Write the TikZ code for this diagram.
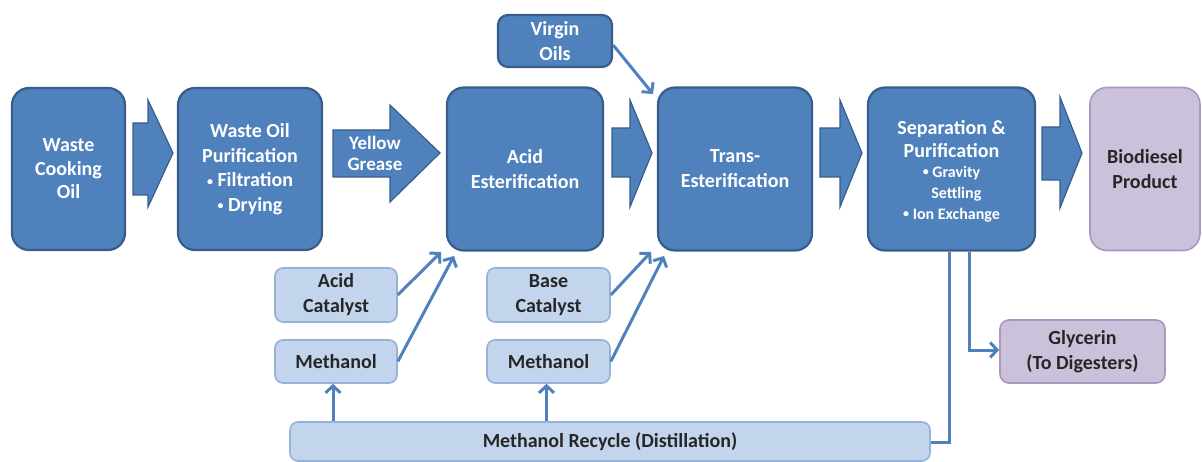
\documentclass[tikz,border=0pt]{standalone}
\usepackage{fontspec}
\setmainfont{Carlito}
\usetikzlibrary{arrows.meta,calc}
\definecolor{dblue}{HTML}{4F81BD}
\definecolor{dborder}{HTML}{385D8A}
\definecolor{lfill}{HTML}{C2D5EC}
\definecolor{lborder}{HTML}{95B3D7}
\definecolor{pfill}{HTML}{CCC1DA}
\definecolor{pborder}{HTML}{A898BE}
\newcommand\sbul{{\fontsize{12}{12}\selectfont\raisebox{0.12em}{•}}}
\tikzset{
  mainbox/.style={draw=dborder, fill=dblue, line width=2.2pt, rounded corners=17pt,
    text=white, font=\bfseries\fontsize{20}{24}\selectfont, align=center, inner sep=2pt},
  lightbox/.style={draw=lborder, fill=lfill, line width=1.6pt, rounded corners=8pt,
    text=black!85, font=\bfseries\fontsize{20}{25}\selectfont, align=center, inner sep=2pt},
  purplebox/.style={draw=pborder, fill=pfill, line width=1.6pt, rounded corners=12pt,
    text=black!85, font=\bfseries\fontsize{20}{25}\selectfont, align=center, inner sep=2pt},
  whitetext/.style={text=white, align=center, inner sep=1pt},
  blockarrow/.style={draw=dborder, fill=dblue, line width=1.2pt, line join=miter},
  conn/.style={draw=dblue, line width=3pt, -{Straight Barb[length=7pt,width=15pt,line width=3pt]}},
  plainconn/.style={draw=dblue, line width=3pt},
}
\begin{document}
\begin{tikzpicture}[x=1pt,y=-1pt]
\useasboundingbox (0,0) rectangle (1202,462);
% main boxes
\node[mainbox, minimum width=113pt, minimum height=162pt, font=\bfseries\fontsize{20}{23.5}\selectfont] (wco) at (68.5,169) {Waste\\Cooking\\Oil};
\node[mainbox, minimum width=144pt, minimum height=162pt, font=\bfseries\fontsize{20}{24.5}\selectfont] (wop) at (250,169) {Waste Oil\\Purification\\\sbul\ Filtration\\\sbul\ Drying};
\node[mainbox, minimum width=156pt, minimum height=163pt, font=\bfseries\fontsize{20}{25}\selectfont] (ae) at (525,169) {Acid\\Esterification};
\node[mainbox, minimum width=154pt, minimum height=163pt, font=\bfseries\fontsize{20}{25}\selectfont] (te) at (735,169) {Trans-\\Esterification};
\node[mainbox, minimum width=167pt, minimum height=163pt] (sp) at (951.5,169) {};
\node[whitetext, font=\bfseries\fontsize{20}{23}\selectfont] (sptitle) at (951.5,139) {Separation \&\\Purification};
\node[whitetext, font=\bfseries\fontsize{16}{21}\selectfont] (spsub) at (951.5,194) {\sbul\ Gravity\\\phantom{\sbul\ }Settling\\\sbul\ Ion Exchange};
\node[purplebox, rounded corners=17pt, minimum width=110pt, minimum height=163pt] (bp) at (1145,169) {Biodiesel\\Product};
\node[mainbox, rounded corners=10pt, minimum width=114pt, minimum height=52pt, font=\bfseries\fontsize{20}{25}\selectfont] (vo) at (555,41) {Virgin\\Oils};
% light boxes
\node[lightbox, minimum width=122pt, minimum height=54pt] (ac) at (336,295) {Acid\\Catalyst};
\node[lightbox, minimum width=122pt, minimum height=43pt] (m1) at (336,361.5) {Methanol};
\node[lightbox, minimum width=123pt, minimum height=54pt] (bc) at (548.5,295) {Base\\Catalyst};
\node[lightbox, minimum width=123pt, minimum height=43pt] (m2) at (548.5,361.5) {Methanol};
\node[lightbox, minimum width=640pt, minimum height=39pt] (mr) at (610,441.5) {Methanol Recycle (Distillation)};
\node[purplebox, rounded corners=9pt, minimum width=165pt, minimum height=63pt] (gl) at (1082.5,351.5) {Glycerin\\(To Digesters)};
% block arrows
\draw[blockarrow] (133,123) -- (148,123) -- (148,100) -- (173,153) -- (148,207) -- (148,195) -- (133,195) -- cycle;
\draw[blockarrow] (333,130) -- (390,130) -- (390,105) -- (440,153) -- (390,202) -- (390,177) -- (333,177) -- cycle;
\node[whitetext, font=\bfseries\fontsize{19}{21}\selectfont] (yg) at (375,153) {Yellow\\Grease};
\draw[blockarrow] (612,128) -- (630,128) -- (630,100) -- (652,153) -- (630,207) -- (630,177) -- (612,177) -- cycle;
\draw[blockarrow] (820,128) -- (840,128) -- (840,100) -- (862,153) -- (840,207) -- (840,177) -- (820,177) -- cycle;
\draw[blockarrow] (1042,127) -- (1060,127) -- (1060,97) -- (1082,153) -- (1060,208) -- (1060,180) -- (1042,180) -- cycle;
% connector endpoints
\coordinate (voT) at (653,94);
\coordinate (acT) at (441,252);
\coordinate (m1T) at (454,256);
\coordinate (bcT) at (651,252);
\coordinate (m2T) at (664,256);
\coordinate (c1) at (949,442);
\coordinate (c2) at (969,350);
% connectors
\draw[conn] ($(vo.east)+(0,4)$) -- (voT);
\draw[conn] (ac.east) -- (acT);
\draw[conn] (m1.east) -- (m1T);
\draw[conn] (bc.east) -- (bcT);
\draw[conn] (m2.east) -- (m2T);
\draw[conn] ($(mr.north -| m1)+(-3,0)$) -- ($(m1.south)+(-3,0)$);
\draw[conn] ($(mr.north -| m2)+(-2,0)$) -- ($(m2.south)+(-2,0)$);
\draw[plainconn] (sp.south -| c1) -- (c1) -- (c1 -| mr.east);
\draw[conn] (sp.south -| c2) -- (c2) -- (c2 -| gl.west);
\end{tikzpicture}
\end{document}
